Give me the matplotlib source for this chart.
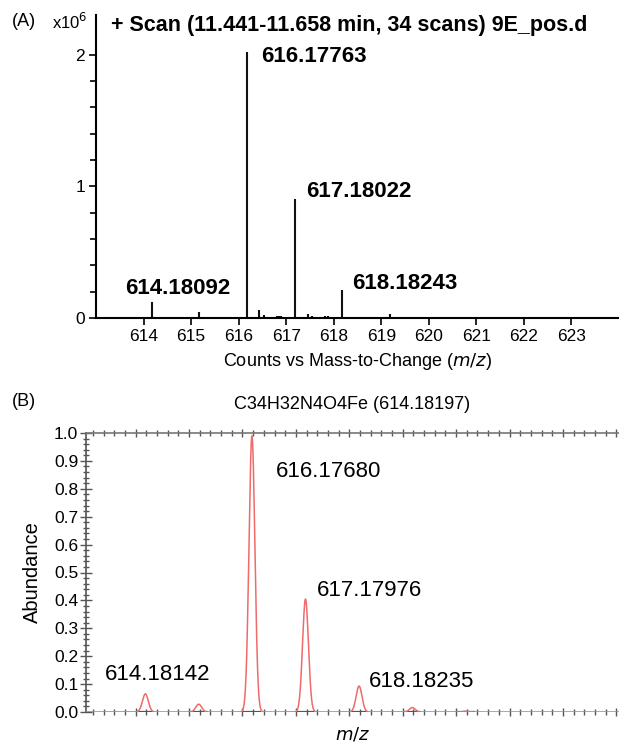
import numpy as np
import matplotlib
matplotlib.use("Agg")
import matplotlib.pyplot as plt
from matplotlib.ticker import FixedLocator, MultipleLocator, NullFormatter

plt.rcParams['font.family'] = ['Liberation Sans', 'DejaVu Sans']

# ---------------- data ----------------
# Panel A: measured centroid spectrum (counts x10^6)
a_mz = [614.18092, 615.16, 616.17763, 616.42, 616.54, 616.72, 616.80, 616.85, 616.90,
        616.95, 617.18022, 617.45, 617.55, 617.75, 617.82, 617.88, 617.95, 618.18243,
        618.45, 618.56, 619.19, 620.20]
a_counts = [0.124, 0.047, 2.02, 0.062, 0.022, 0.010, 0.015, 0.018, 0.014,
            0.010, 0.90, 0.028, 0.013, 0.010, 0.014, 0.014, 0.010, 0.21,
            0.008, 0.008, 0.031, 0.006]
a_labels = ["614.18092", "616.17763", "617.18022", "618.18243"]
a_label_idx = [0, 2, 10, 17]
a_xticks = [614, 615, 616, 617, 618, 619, 620, 621, 622, 623]
a_yticks = [0, 1, 2]

# Panel B: simulated isotope pattern for C34H32N4O4Fe
b_mz = [614.18142, 615.18, 616.17680, 617.17976, 618.18235, 619.18, 620.18]
b_abund = [0.065, 0.028, 0.99, 0.405, 0.093, 0.016, 0.003]
b_labels = ["614.18142", "616.17680", "617.17976", "618.18235"]
b_label_idx = [0, 2, 3, 4]
b_yticks = [0.0, 0.1, 0.2, 0.3, 0.4, 0.5, 0.6, 0.7, 0.8, 0.9, 1.0]

W, H = 619, 744
fig = plt.figure(figsize=(W / 100, H / 100), dpi=100)

def fx(px):
    return px / W

def fy(py):
    return 1 - py / H

# ---------------- Panel A ----------------
axA = fig.add_axes([fx(96), fy(318), fx(619) - fx(96), fy(15) - fy(318)])
axA.vlines(a_mz, 0, a_counts, color='#111111', lw=1.5)
axA.set_xlim(613.0, 624.0)
axA.set_ylim(0, 2.3)
for s in ['top', 'right']:
    axA.spines[s].set_visible(False)
for s in ['left', 'bottom']:
    axA.spines[s].set_linewidth(1.5)
axA.set_xticks(a_xticks)
axA.set_yticks(a_yticks)
axA.set_yticklabels([str(v) for v in a_yticks])
axA.yaxis.set_minor_locator(FixedLocator([0.2, 0.4, 0.6, 0.8, 1.2, 1.4, 1.6, 1.8]))
axA.tick_params(axis='both', which='major', direction='out', length=5, width=1.2,
                labelsize=12.5, pad=3)
axA.tick_params(axis='y', which='minor', direction='out', length=4, width=1.2)
axA.set_xlabel('Counts vs Mass-to-Change ($m/z$)', fontsize=13, labelpad=5)

offA = [(26, 13), (14, -5), (11, 8), (10, 7)]
for i, lab, (dx, dy) in zip(a_label_idx, a_labels, offA):
    ha = 'center' if dx > 20 else 'left'
    axA.annotate(lab, xy=(a_mz[i], a_counts[i]), xytext=(dx * 0.72, dy * 0.72),
                 textcoords='offset points', ha=ha, va='center',
                 fontsize=16, fontweight='bold')

fig.text(fx(12), fy(21), '(A)', fontsize=13, ha='left', va='center')
fig.text(fx(52), fy(22), r'x10$^{6}$', fontsize=12, ha='left', va='center')
fig.text(fx(111), fy(25), '+ Scan (11.441-11.658 min, 34 scans) 9E_pos.d',
         fontsize=15.5, fontweight='bold', ha='left', va='center')

# ---------------- Panel B ----------------
axB = fig.add_axes([fx(86), fy(712), fx(619) - fx(86), fy(433) - fy(712)])
x = np.linspace(612.5, 624.0, 6000)
sigma = 0.055
y = np.zeros_like(x)
for m, h in zip(b_mz, b_abund):
    y += h * np.exp(-0.5 * ((x - m) / sigma) ** 2)
for m in b_mz:
    axB.hlines(0, m - 0.17, m + 0.17, color='#555555', lw=1.6, zorder=3)
axB.plot(x, y, color='#f06a6a', lw=1.1, zorder=4)
axB.set_xlim(613.07, 623.05)
axB.set_ylim(0, 1.0)
axB.spines['right'].set_visible(False)
axB.spines['bottom'].set_visible(False)
axB.spines['top'].set_color('#777777')
axB.spines['left'].set_color('#555555')
axB.spines['top'].set_linewidth(1.2)
axB.spines['left'].set_linewidth(1.2)
axB.xaxis.set_major_locator(MultipleLocator(1))
axB.xaxis.set_minor_locator(MultipleLocator(0.2))
axB.xaxis.set_major_formatter(NullFormatter())
axB.set_yticks(b_yticks)
axB.set_yticklabels(['%.1f' % v for v in b_yticks])
axB.yaxis.set_minor_locator(MultipleLocator(0.02))
axB.tick_params(axis='x', which='both', top=True, bottom=True, direction='inout',
                color='#555555', width=1.0)
axB.tick_params(axis='x', which='major', length=6)
axB.tick_params(axis='x', which='minor', length=4)
axB.tick_params(axis='y', which='major', direction='inout', length=9, width=1.0,
                color='#555555', labelsize=12.5, pad=1)
axB.tick_params(axis='y', which='minor', direction='inout', length=5, width=1.0,
                color='#555555')
axB.set_ylabel('Abundance', fontsize=14.5, labelpad=9)
axB.set_xlabel('$m/z$', fontsize=13, labelpad=3)
axB.set_title('C34H32N4O4Fe (614.18197)', fontsize=13, pad=17, x=0.5)

offB = [(12, 19), (24, -36), (11, 9), (10, 5)]
for i, lab, (dx, dy) in zip(b_label_idx, b_labels, offB):
    ha = 'center' if i == 0 else 'left'
    axB.annotate(lab, xy=(b_mz[i], b_abund[i]), xytext=(dx * 0.72, dy * 0.72),
                 textcoords='offset points', ha=ha, va='center', fontsize=16)

fig.text(fx(12), fy(402), '(B)', fontsize=13, ha='left', va='center')

fig.savefig('out.png', dpi=100)
